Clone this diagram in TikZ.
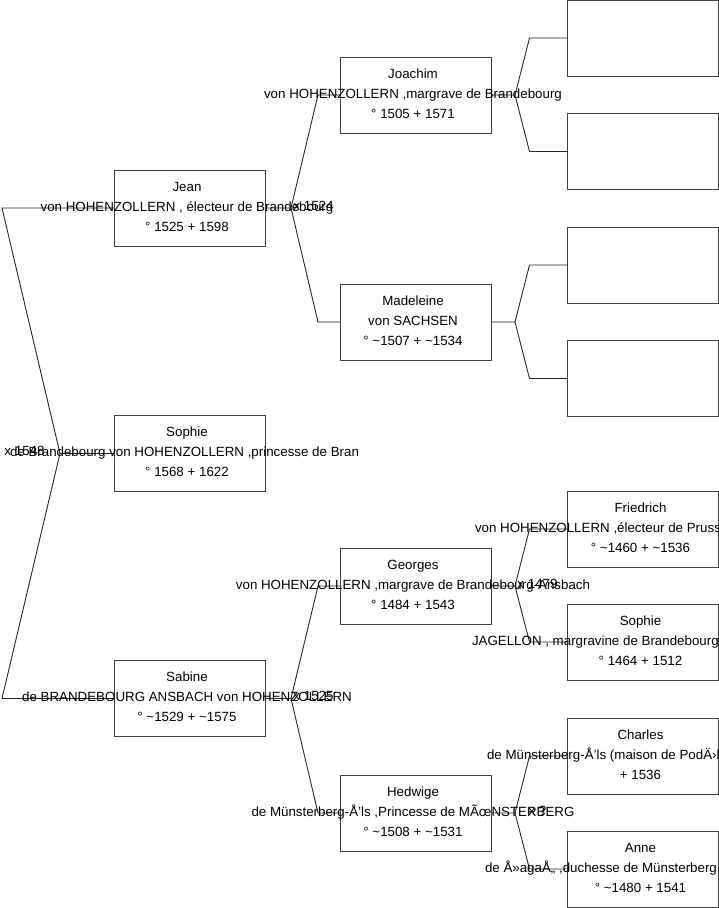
\documentclass[tikz,border=0pt]{standalone}
\usepackage{fontspec}
\setmainfont{Liberation Sans}
\begin{document}
\begin{tikzpicture}[x=1pt,y=-1pt,
  box/.style={draw=black!75, line width=0.9pt, minimum width=151pt, minimum height=76pt, inner sep=0pt, outer sep=0pt},
  txt/.style={font=\fontsize{13.33}{16}\selectfont, inner sep=0pt, outer sep=0pt, text height=9.6pt, text depth=2.8pt},
  link/.style={draw=black!85, line width=0.9pt}]
\useasboundingbox (0,0) rectangle (719,908);
\fill[white] (0,0) rectangle (719,908);
\clip (0,0) rectangle (719,908);

% boxes column 1
\node[box] (jean) at (189.5,208) {};
\node[box] (sophie) at (189.5,453.5) {};
\node[box] (sabine) at (189.5,698.5) {};
% column 2
\node[box] (joachim) at (415.5,95) {};
\node[box] (madeleine) at (415.5,322) {};
\node[box] (georges) at (415.5,586) {};
\node[box] (hedwige) at (415.5,813) {};
% column 3
\node[box] (e1) at (643,38) {};
\node[box] (e2) at (643,151.5) {};
\node[box] (e3) at (643,265) {};
\node[box] (e4) at (643,378.5) {};
\node[box] (friedrich) at (643,529) {};
\node[box] (sophieJ) at (643,642) {};
\node[box] (charles) at (643,756) {};
\node[box] (anne) at (643,869) {};

% connectors: root
\draw[link] (jean.west) -- (2,208) coordinate (rj) -- (60,453.5) coordinate (rf) -- (sophie.west);
\draw[link] (sabine.west) -- (2,698.5) -- (rf);
% Jean -> parents
\draw[link] (jean.east) -- ++(26,0) coordinate (fj) -- ([xshift=-22pt]joachim.west) -- (joachim.west);
\draw[link] (fj) -- ([xshift=-22pt]madeleine.west) -- (madeleine.west);
% Sabine -> parents
\draw[link] (sabine.east) -- ++(26,0) coordinate (fs) -- ([xshift=-22pt]georges.west) -- (georges.west);
\draw[link] (fs) -- ([xshift=-22pt]hedwige.west) -- (hedwige.west);
% column 2 -> column 3
\draw[link] (joachim.east) -- ++(24,0) coordinate (fa) -- ([xshift=-38pt]e1.west) -- (e1.west);
\draw[link] (fa) -- ([xshift=-38pt]e2.west) -- (e2.west);
\draw[link] (madeleine.east) -- ++(24,0) coordinate (fb) -- ([xshift=-38pt]e3.west) -- (e3.west);
\draw[link] (fb) -- ([xshift=-38pt]e4.west) -- (e4.west);
\draw[link] (georges.east) -- ++(24,0) coordinate (fc) -- ([xshift=-38pt]friedrich.west) -- (friedrich.west);
\draw[link] (fc) -- ([xshift=-38pt]sophieJ.west) -- (sophieJ.west);
\draw[link] (hedwige.east) -- ++(24,0) coordinate (fd) -- ([xshift=-38pt]charles.west) -- (charles.west);
\draw[link] (fd) -- ([xshift=-38pt]anne.west) -- (anne.west);

% texts column 1
\node[txt] (jean-a) at (187,188) {Jean};
\node[txt] (jean-b) at (187,208) {von HOHENZOLLERN , électeur de Brandebourg};
\node[txt] (jean-c) at (187,228) {° 1525 + 1598};
\node[txt] (sophie-a) at (187,433.5) {Sophie};
\node[txt, anchor=west] (sophie-b) at (10,453.5) {de Brandebourg von HOHENZOLLERN ,princesse de Bran};
\node[txt] (sophie-c) at (187,473.5) {° 1568 + 1622};
\node[txt] (sabine-a) at (187,678.5) {Sabine};
\node[txt] (sabine-b) at (187,698.5) {de BRANDEBOURG ANSBACH von HOHENZOLLERN};
\node[txt] (sabine-c) at (187,718.5) {° \textasciitilde1529 + \textasciitilde1575};
% texts column 2
\node[txt] (joachim-a) at (413,75) {Joachim};
\node[txt] (joachim-b) at (413,95) {von HOHENZOLLERN ,margrave de Brandebourg};
\node[txt] (joachim-c) at (413,115) {° 1505 + 1571};
\node[txt] (madeleine-a) at (413,302) {Madeleine};
\node[txt] (madeleine-b) at (413,322) {von SACHSEN};
\node[txt] (madeleine-c) at (413,342) {° \textasciitilde1507 + \textasciitilde1534};
\node[txt] (georges-a) at (413,566) {Georges};
\node[txt] (georges-b) at (413,586) {von HOHENZOLLERN ,margrave de Brandebourg-Ansbach};
\node[txt] (georges-c) at (413,606) {° 1484 + 1543};
\node[txt] (hedwige-a) at (413,793) {Hedwige};
\node[txt] (hedwige-b) at (413,813) {de Münsterberg-Å’ls ,Princesse de MÃœNSTERBERG};
\node[txt] (hedwige-c) at (413,833) {° \textasciitilde1508 + \textasciitilde1531};
% texts column 3
\node[txt] (friedrich-a) at (640.5,509) {Friedrich};
\node[txt, anchor=west] (friedrich-b) at (475,529) {von HOHENZOLLERN ,électeur de Pruss};
\node[txt] (friedrich-c) at (640.5,549) {° \textasciitilde1460 + \textasciitilde1536};
\node[txt] (sophieJ-a) at (640.5,622) {Sophie};
\node[txt, anchor=west] (sophieJ-b) at (472,642) {JAGELLON , margravine de Brandebourg};
\node[txt] (sophieJ-c) at (640.5,662) {° 1464 + 1512};
\node[txt] (charles-a) at (640.5,736) {Charles};
\node[txt, anchor=west] (charles-b) at (487,756) {de Münsterberg-Å’ls (maison de PodÄ›b};
\node[txt] (charles-c) at (640.5,776) {+ 1536};
\node[txt] (anne-a) at (640.5,849) {Anne};
\node[txt, anchor=west] (anne-b) at (485,869) {de Å»agaÅ„ ,duchesse de Münsterberg};
\node[txt] (anne-c) at (640.5,889) {° \textasciitilde1480 + 1541};

% marriage labels
\node[txt] (m0) at (24.5,452) {x 1548};
\node[txt] (m1) at (313.5,207) {x 1524};
\node[txt] (m2) at (313.5,697.5) {x 1525};
\node[txt] (m3) at (537.5,585) {x 1479};
\node[txt] (m4) at (537.5,812) {x ?};
\end{tikzpicture}
\end{document}
